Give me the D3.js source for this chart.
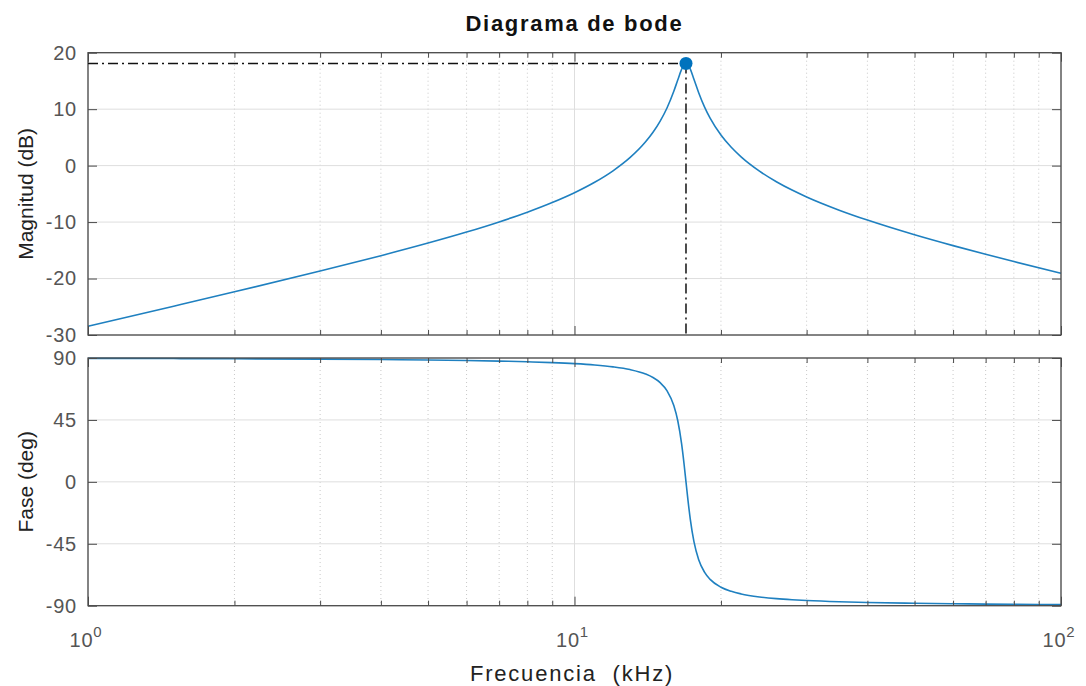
<!DOCTYPE html>
<html>
<head>
<meta charset="utf-8">
<script src="https://cdn.jsdelivr.net/npm/d3@7"></script>
<style>
  html, body { margin: 0; padding: 0; background: #fff; }
  svg { display: block; }
  text { font-family: "Liberation Sans", Arial, Helvetica, sans-serif; }
</style>
</head>
<body>
<svg id="chart" width="1086" height="686"></svg>
<script>
// Frequency samples (kHz) of the band-pass response
const freqs = [1, 1.5, 2, 3, 4, 5, 6, 7, 8, 9, 10, 11, 12, 13, 14, 14.5, 15, 15.5, 16, 16.3, 16.6, 16.8,
               16.95, 17.1, 17.3, 17.6, 18, 18.5, 19, 20, 21, 22, 24, 26, 28, 30, 35, 40, 50, 60, 70, 80, 100];
// Magnitude (dB)
const magnitude = [-28.46, -24.90, -22.35, -18.67, -15.95, -13.72, -11.77, -9.97, -8.25, -6.54, -4.80, -2.95,
                   -0.92, 1.40, 4.21, 5.90, 7.88, 10.25, 13.17, 15.15, 17.04, 17.89,
                   18.10, 17.89, 17.08, 15.31, 12.92, 10.41, 8.41, 5.42, 3.24, 1.55, -0.98, -2.85, -4.33, -5.55,
                   -7.89, -9.65, -12.25, -14.17, -15.70, -16.99, -19.07];
// Phase (deg)
const phase = [89.73, 89.59, 89.46, 89.17, 88.86, 88.53, 88.16, 87.74, 87.24, 86.64, 85.89, 84.92,
               83.57, 81.59, 78.34, 75.79, 72.05, 66.10, 55.49, 44.59, 27.73, 12.62,
               0, -12.52, -27.25, -43.48, -56.58, -65.63, -70.87, -76.57, -79.58, -81.44, -83.62, -84.86, -85.66, -86.23,
               -87.13, -87.65, -88.26, -88.60, -88.83, -88.99, -89.21];

// Resonance peak marker
const peakFreq = 16.95;
const peakMag = 18.10;

// Axis ticks
const freqDecades = [1, 10, 100];
const freqMinor = [2, 3, 4, 5, 6, 7, 8, 9, 20, 30, 40, 50, 60, 70, 80, 90];
const magTicks = [-30, -20, -10, 0, 10, 20];
const phaseTicks = [-90, -45, 0, 45, 90];
const decadeExp = ["0", "1", "2"];

const titleText = "Diagrama de bode";
const magLabel = "Magnitud (dB)";
const phaseLabel = "Fase (deg)";
const freqLabel = "Frecuencia  (kHz)";

const svg = d3.select("#chart");

const left = 88, right = 1061;
const x = d3.scaleLog().domain([1, 100]).range([left, right]);
const yMag = d3.scaleLinear().domain([-30, 20]).range([335, 52.7]);
const yPh = d3.scaleLinear().domain([-90, 90]).range([605.7, 358]);

const lineColor = "#1f80c0";
const axisColor = "#4a4a4a";
const tickTextColor = "#555";

function panel(y, ticks, values) {
  const g = svg.append("g");
  const [yb, yt] = y.range();

  // minor grid (dotted) along frequency
  g.selectAll(".minor").data(freqMinor).join("line")
    .attr("x1", d => x(d)).attr("x2", d => x(d))
    .attr("y1", yt).attr("y2", yb)
    .attr("stroke", "#c8c8c8").attr("stroke-width", 1)
    .attr("stroke-dasharray", "1,3");

  // major grid
  g.selectAll(".vmaj").data(freqDecades).join("line")
    .attr("x1", d => x(d)).attr("x2", d => x(d))
    .attr("y1", yt).attr("y2", yb)
    .attr("stroke", "#dedede").attr("stroke-width", 1);
  g.selectAll(".hmaj").data(ticks).join("line")
    .attr("x1", left).attr("x2", right)
    .attr("y1", d => y(d)).attr("y2", d => y(d))
    .attr("stroke", "#dedede").attr("stroke-width", 1);

  // response curve
  const line = d3.line()
    .x((d, i) => x(freqs[i]))
    .y(d => y(d))
    .curve(d3.curveMonotoneX);
  g.append("path").datum(values)
    .attr("d", line)
    .attr("fill", "none")
    .attr("stroke", lineColor)
    .attr("stroke-width", 1.6);

  // inward ticks on all four sides
  const axes = [
    [d3.axisBottom(x), `translate(0,${yb})`, freqDecades, 9],
    [d3.axisBottom(x), `translate(0,${yb})`, freqMinor, 5],
    [d3.axisTop(x), `translate(0,${yt})`, freqDecades, 9],
    [d3.axisTop(x), `translate(0,${yt})`, freqMinor, 5],
    [d3.axisRight(y), `translate(${right},0)`, ticks, 9]
  ];
  axes.forEach(([ax, tr, vals, len]) => {
    const a = g.append("g").attr("transform", tr)
      .call(ax.tickValues(vals).tickSize(-len).tickFormat(""));
    a.select(".domain").remove();
    a.selectAll("line").attr("stroke", axisColor);
  });

  const la = g.append("g").attr("transform", `translate(${left},0)`)
    .call(d3.axisLeft(y).tickValues(ticks).tickSize(-9).tickPadding(11)
      .tickFormat(d => String(d)));
  la.select(".domain").remove();
  la.selectAll("line").attr("stroke", axisColor);
  la.selectAll("text")
    .attr("fill", tickTextColor)
    .style("font-size", "20px")
    .style("letter-spacing", "0.8px")
    .style("font-family", "'Liberation Sans', Arial, sans-serif");

  // box
  g.append("rect")
    .attr("x", left).attr("y", yt)
    .attr("width", right - left).attr("height", yb - yt)
    .attr("fill", "none").attr("stroke", axisColor).attr("stroke-width", 1.3);
  return g;
}

const gMag = panel(yMag, magTicks, magnitude);
const gPh = panel(yPh, phaseTicks, phase);

// dash-dot guides to the resonance peak
gMag.append("line")
  .attr("x1", x(1)).attr("x2", x(peakFreq))
  .attr("y1", yMag(peakMag)).attr("y2", yMag(peakMag))
  .attr("stroke", "#111").attr("stroke-width", 1.5)
  .attr("stroke-dasharray", "10,4,2,4");
gMag.append("line")
  .attr("x1", x(peakFreq)).attr("x2", x(peakFreq))
  .attr("y1", yMag(peakMag)).attr("y2", yMag(-30))
  .attr("stroke", "#111").attr("stroke-width", 1.5)
  .attr("stroke-dasharray", "10,4,2,4");
gMag.append("circle")
  .attr("cx", x(peakFreq)).attr("cy", yMag(peakMag))
  .attr("r", 6.5)
  .attr("fill", "#0072bd");

// frequency tick labels (powers of ten)
const xl = svg.append("g");
freqDecades.forEach((d, i) => {
  const t = xl.append("text")
    .attr("x", x(d) - 2).attr("y", 647)
    .attr("text-anchor", "middle")
    .attr("fill", tickTextColor)
    .style("font-size", "20px")
    .style("letter-spacing", "0.8px");
  t.append("tspan").text("10");
  t.append("tspan").attr("dy", -10).style("font-size", "15px").text(decadeExp[i]);
});

// titles
svg.append("text")
  .attr("x", (left + right) / 2).attr("y", 31)
  .attr("text-anchor", "middle")
  .style("font-size", "22px").style("font-weight", "bold")
  .style("letter-spacing", "1.7px")
  .attr("fill", "#111")
  .text(titleText);

svg.append("text")
  .attr("transform", `translate(33,${(yMag(-30) + yMag(20)) / 2}) rotate(-90)`)
  .attr("text-anchor", "middle")
  .style("font-size", "21px")
  .attr("fill", "#222")
  .text(magLabel);

svg.append("text")
  .attr("transform", `translate(33,${(yPh(-90) + yPh(90)) / 2}) rotate(-90)`)
  .attr("text-anchor", "middle")
  .style("font-size", "21px")
  .attr("fill", "#222")
  .text(phaseLabel);

svg.append("text")
  .attr("x", 572).attr("y", 681)
  .attr("text-anchor", "middle")
  .style("font-size", "22px")
  .style("letter-spacing", "1.8px")
  .attr("xml:space", "preserve")
  .attr("fill", "#222")
  .text(freqLabel);
</script>
</body>
</html>
